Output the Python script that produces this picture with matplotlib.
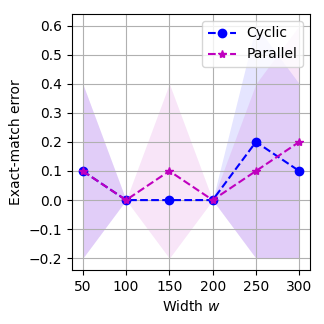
import numpy as np
import matplotlib.pyplot as plt

widths = [50, 100, 150, 200, 250, 300]

cyclic_mean = [0.1, 0.0, 0.0, 0.0, 0.2, 0.1]
cyclic_lo = [-0.2, 0.0, 0.0, 0.0, -0.2, -0.2]
cyclic_hi = [0.4, 0.0, 0.0, 0.0, 0.6, 0.4]

parallel_mean = [0.1, 0.0, 0.1, 0.0, 0.1, 0.2]
parallel_lo = [-0.2, 0.0, -0.2, 0.0, -0.2, -0.2]
parallel_hi = [0.4, 0.0, 0.4, 0.0, 0.4, 0.6]

yticks = [-0.2, -0.1, 0.0, 0.1, 0.2, 0.3, 0.4, 0.5, 0.6]

fig, ax = plt.subplots(figsize=(3.24, 3.24), dpi=100)

ax.plot(widths, cyclic_mean, 'bo--', label='Cyclic')
ax.fill_between(widths, cyclic_lo, cyclic_hi, color='b', alpha=0.1, linewidth=0)
ax.plot(widths, parallel_mean, 'm*--', label='Parallel')
ax.fill_between(widths, parallel_lo, parallel_hi, color='m', alpha=0.1, linewidth=0)

ax.set_xlabel('Width $w$')
ax.set_ylabel('Exact-match error')
ax.set_xticks(widths)
ax.set_yticks(yticks)
ax.grid(True)
ax.legend(loc='upper right')

fig.subplots_adjust(left=0.222, right=0.957, top=0.957, bottom=0.167)
fig.savefig('out.png')
